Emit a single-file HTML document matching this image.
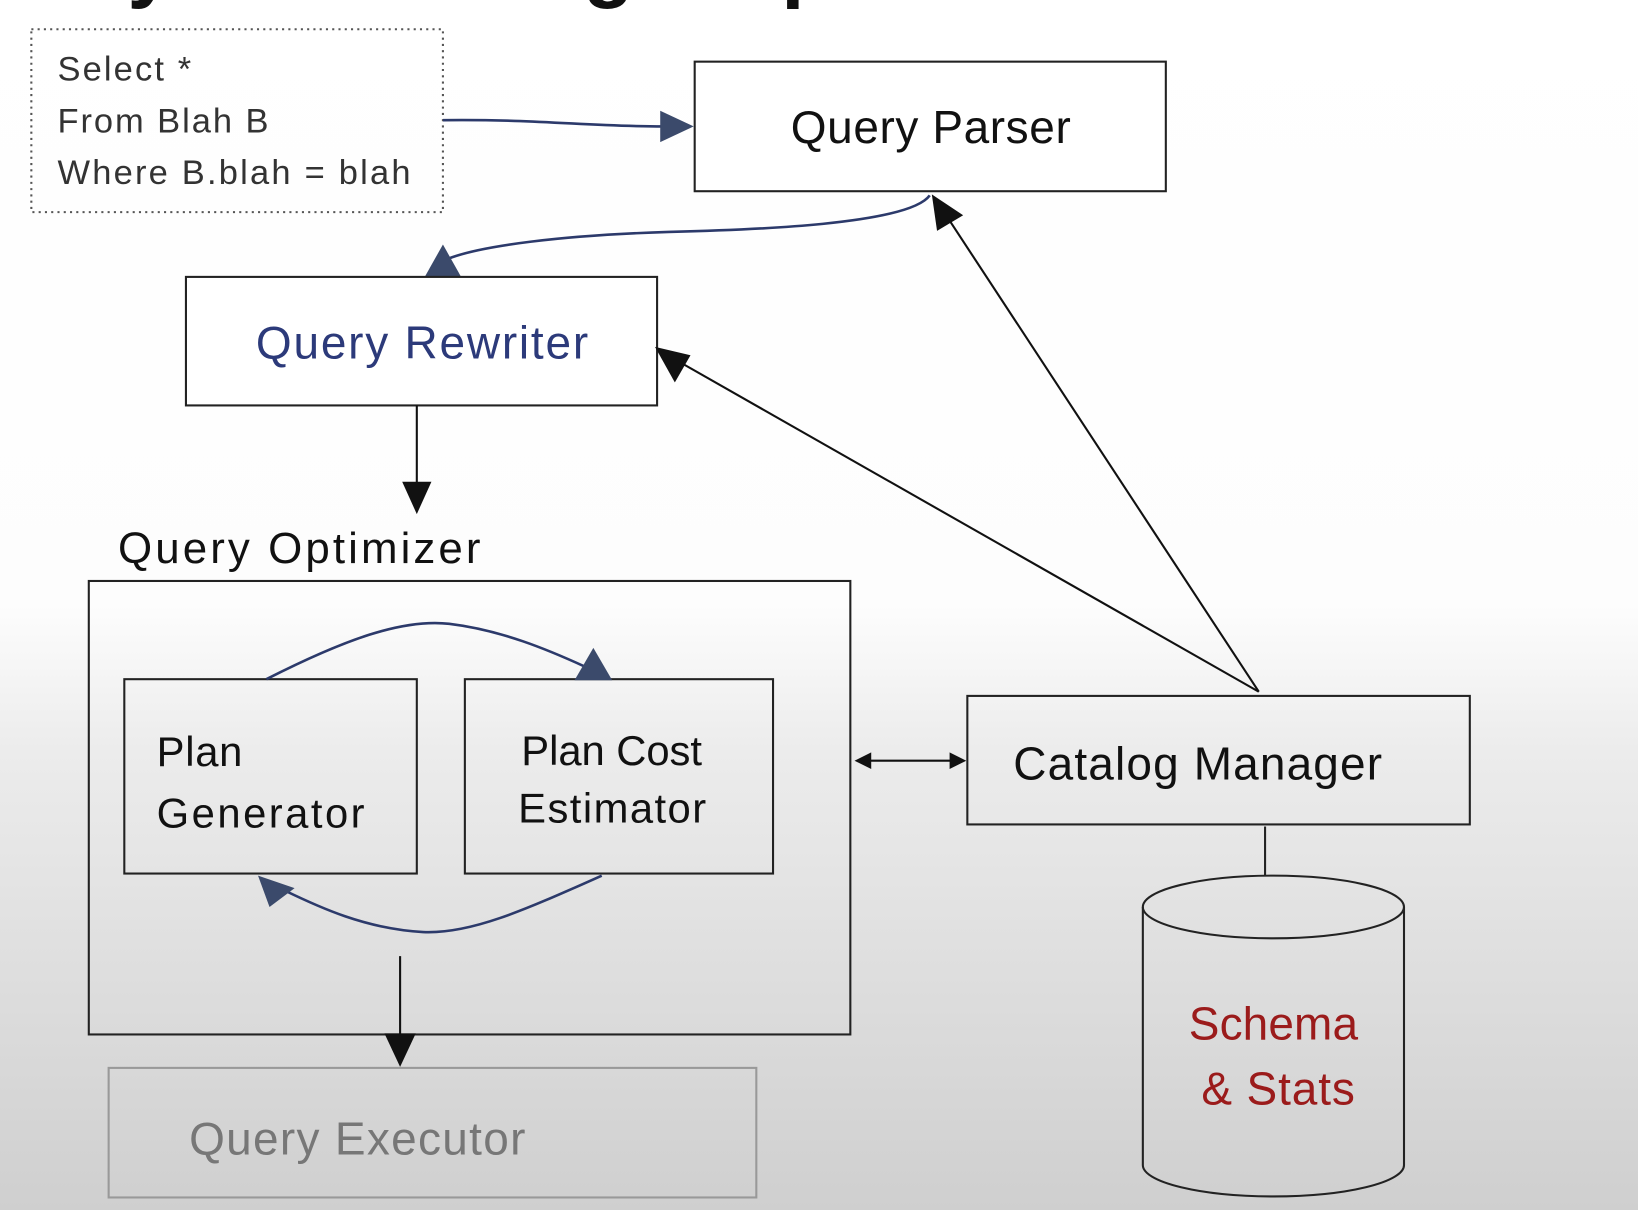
<!DOCTYPE html>
<html><head><meta charset="utf-8"><style>
html,body{margin:0;padding:0;width:1638px;height:1210px;overflow:hidden}
svg{display:block}
text{font-family:"Liberation Sans",sans-serif}
</style></head><body>
<svg width="1638" height="1210" viewBox="0 0 1568 1158" preserveAspectRatio="none" xmlns="http://www.w3.org/2000/svg">
<defs>
<linearGradient id="bg" x1="0" y1="0" x2="0" y2="1">
<stop offset="0" stop-color="#ffffff"/>
<stop offset="0.5" stop-color="#fdfdfd"/>
<stop offset="0.62" stop-color="#ececec"/>
<stop offset="1" stop-color="#cfcfcf"/>
</linearGradient>
</defs>
<rect x="0" y="0" width="1568" height="1158" fill="url(#bg)"/>
<text x="-60" y="-8" font-size="80" font-weight="bold" fill="#111" textLength="900">Query Processing Steps</text>

<!-- SQL box -->
<rect x="30" y="28" width="394" height="175" fill="none" stroke="#555" stroke-width="2" stroke-dasharray="2,4"/>
<g font-size="33" fill="#333">
<text x="55" y="77" textLength="128">Select *</text>
<text x="55" y="127" textLength="202">From Blah B</text>
<text x="55" y="176" textLength="338">Where B.blah = blah</text>
</g>
<path d="M424,115 C520,114 560,121 635,121" fill="none" stroke="#2c3a6b" stroke-width="2.5"/>
<polygon points="664,121 632,106 632,136" fill="#3b4a6b"/>

<!-- Query Parser -->
<rect x="665" y="59" width="451" height="124" fill="#fff" stroke="#222" stroke-width="2"/>
<text x="757" y="137" font-size="44" fill="#111" textLength="268">Query Parser</text>

<path d="M890,187 C870,215 720,220 640,222 C540,225 460,235 428,248" fill="none" stroke="#2c3a6b" stroke-width="2.5"/>
<polygon points="424,234 406,266 442,266" fill="#3b4a6b"/>

<!-- Query Rewriter -->
<rect x="178" y="265" width="451" height="123" fill="#fff" stroke="#222" stroke-width="2"/>
<text x="245" y="343" font-size="44" fill="#2c3a7a" textLength="318">Query Rewriter</text>

<line x1="399" y1="388" x2="399" y2="465" stroke="#111" stroke-width="2"/>
<polygon points="385,461 413,461 399,492" fill="#111"/>

<text x="113" y="539" font-size="42" fill="#111" textLength="347">Query Optimizer</text>
<rect x="85" y="556" width="729" height="434" fill="none" stroke="#222" stroke-width="2"/>

<rect x="119" y="650" width="280" height="186" fill="none" stroke="#222" stroke-width="2"/>
<text x="150" y="733" font-size="40" fill="#111" textLength="82">Plan</text>
<text x="150" y="792" font-size="40" fill="#111" textLength="199">Generator</text>

<rect x="445" y="650" width="295" height="186" fill="none" stroke="#222" stroke-width="2"/>
<text x="499" y="732" font-size="40" fill="#111" textLength="173">Plan Cost</text>
<text x="496" y="787" font-size="40" fill="#111" textLength="180">Estimator</text>

<path d="M255,650 C330,612 385,592 430,597 C480,603 525,622 560,638" fill="none" stroke="#2c3a6b" stroke-width="2.5"/>
<polygon points="568,620 550,651 586,651" fill="#3b4a6b"/>
<path d="M576,838 C500,872 450,894 405,892 C350,889 305,868 272,852" fill="none" stroke="#2c3a6b" stroke-width="2.5"/>
<polygon points="247,838 258,868 282,850" fill="#3b4a6b"/>

<line x1="383" y1="915" x2="383" y2="995" stroke="#111" stroke-width="2"/>
<polygon points="368,989 398,989 383,1021" fill="#111"/>

<rect x="104" y="1022" width="620" height="124" fill="none" stroke="#999" stroke-width="2"/>
<text x="181" y="1105" font-size="44" fill="#777" textLength="322">Query Executor</text>

<!-- double arrow -->
<line x1="830" y1="728" x2="912" y2="728" stroke="#111" stroke-width="2"/>
<polygon points="818,728 834,720 834,736" fill="#111"/>
<polygon points="925,728 909,720 909,736" fill="#111"/>

<rect x="926" y="666" width="481" height="123" fill="none" stroke="#222" stroke-width="2"/>
<text x="970" y="746" font-size="44" fill="#111" textLength="353">Catalog Manager</text>

<line x1="1205" y1="662" x2="648" y2="345" stroke="#111" stroke-width="2"/>
<polygon points="627,332 661,340 646,366" fill="#111"/>
<line x1="1205" y1="662" x2="905" y2="205" stroke="#111" stroke-width="2"/>
<polygon points="892,186 922,206 897,221" fill="#111"/>

<line x1="1211" y1="791" x2="1211" y2="838" stroke="#222" stroke-width="2"/>
<path d="M1094,868 L1094,1115 A125,30 0 0 0 1344,1115 L1344,868" fill="none" stroke="#222" stroke-width="2"/>
<ellipse cx="1219" cy="868" rx="125" ry="30" fill="none" stroke="#222" stroke-width="2"/>
<text x="1138" y="995" font-size="44" fill="#9b1b1b" textLength="162">Schema</text>
<text x="1150" y="1057" font-size="44" fill="#9b1b1b" textLength="147">&amp; Stats</text>
</svg>
</body></html>
